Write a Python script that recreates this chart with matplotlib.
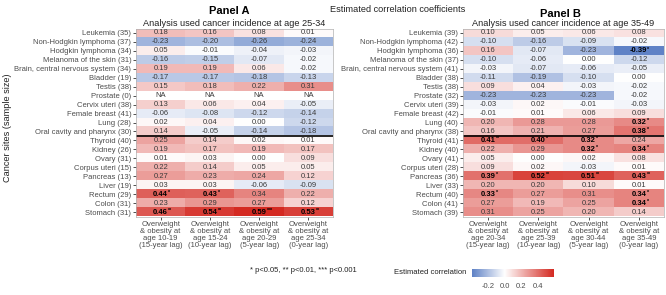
import matplotlib
matplotlib.use("Agg")
import matplotlib.pyplot as plt
import numpy as np
from matplotlib.colors import LinearSegmentedColormap, TwoSlopeNorm

plt.rcParams['font.family'] = ['Liberation Sans', 'DejaVu Sans']

sites = ["Leukemia", "Non-Hodgkin lymphoma", "Hodgkin lymphoma", "Melanoma of the skin",
         "Brain, central nervous system", "Bladder", "Testis", "Prostate", "Cervix uteri",
         "Female breast", "Lung", "Oral cavity and pharynx", "Thyroid", "Kidney", "Ovary",
         "Corpus uteri", "Pancreas", "Liver", "Rectum", "Colon", "Stomach"]
n_a = [35, 37, 34, 31, 34, 19, 38, 0, 38, 41, 28, 30, 40, 26, 31, 15, 13, 19, 29, 31, 31]
n_b = [39, 42, 36, 37, 41, 38, 38, 32, 39, 42, 40, 38, 41, 40, 41, 28, 36, 33, 40, 41, 39]

xlabels_a = ["Overweight\n& obesity at\nage 10-19\n(15-year lag)",
             "Overweight\n& obesity at\nage 15-24\n(10-year lag)",
             "Overweight\n& obesity at\nage 20-29\n(5-year lag)",
             "Overweight\n& obesity at\nage 25-34\n(0-year lag)"]
xlabels_b = ["Overweight\n& obesity at\nage 20-34\n(15-year lag)",
             "Overweight\n& obesity at\nage 25-39\n(10-year lag)",
             "Overweight\n& obesity at\nage 30-44\n(5-year lag)",
             "Overweight\n& obesity at\nage 35-49\n(0-year lag)"]

NA = np.nan
vals_a = [
    [0.18, 0.16, 0.08, 0.01],
    [-0.23, -0.20, -0.26, -0.24],
    [0.05, -0.01, -0.04, -0.03],
    [-0.16, -0.15, -0.07, -0.02],
    [0.19, 0.19, 0.06, -0.02],
    [-0.17, -0.17, -0.18, -0.13],
    [0.15, 0.18, 0.22, 0.31],
    [NA, NA, NA, NA],
    [0.13, 0.06, 0.04, -0.05],
    [-0.06, -0.08, -0.12, -0.14],
    [0.02, 0.04, 0.00, -0.12],
    [0.14, -0.05, -0.14, -0.18],
    [0.25, 0.14, 0.02, 0.01],
    [0.19, 0.17, 0.19, 0.17],
    [0.01, 0.03, 0.00, 0.09],
    [0.22, 0.14, 0.05, 0.05],
    [0.27, 0.23, 0.24, 0.12],
    [0.03, 0.03, -0.06, -0.09],
    [0.44, 0.43, 0.34, 0.22],
    [0.23, 0.29, 0.27, 0.12],
    [0.46, 0.54, 0.59, 0.53],
]
sig_a = [
    ["", "", "", ""], ["", "", "", ""], ["", "", "", ""], ["", "", "", ""],
    ["", "", "", ""], ["", "", "", ""], ["", "", "", ""], ["", "", "", ""],
    ["", "", "", ""], ["", "", "", ""], ["", "", "", ""], ["", "", "", ""],
    ["", "", "", ""], ["", "", "", ""], ["", "", "", ""], ["", "", "", ""],
    ["", "", "", ""], ["", "", "", ""], ["*", "*", "", ""], ["", "", "", ""],
    ["**", "**", "***", "**"],
]
vals_b = [
    [0.10, 0.05, 0.06, 0.08],
    [-0.10, -0.16, -0.09, -0.02],
    [0.16, -0.07, -0.23, -0.39],
    [-0.10, -0.06, 0.00, -0.12],
    [-0.03, -0.07, -0.06, -0.05],
    [-0.11, -0.19, -0.10, 0.00],
    [0.09, 0.04, -0.03, -0.02],
    [-0.23, -0.23, -0.23, -0.02],
    [-0.03, 0.02, -0.01, -0.03],
    [-0.01, 0.01, 0.06, 0.09],
    [0.20, 0.28, 0.28, 0.32],
    [0.16, 0.21, 0.27, 0.38],
    [0.41, 0.40, 0.32, 0.24],
    [0.22, 0.29, 0.32, 0.34],
    [0.05, 0.00, 0.02, 0.08],
    [0.09, 0.02, -0.03, 0.01],
    [0.39, 0.52, 0.51, 0.43],
    [0.20, 0.20, 0.10, 0.01],
    [0.33, 0.27, 0.31, 0.34],
    [0.27, 0.19, 0.25, 0.34],
    [0.31, 0.25, 0.20, 0.14],
]
sig_b = [
    ["", "", "", ""], ["", "", "", ""], ["", "", "", "*"], ["", "", "", ""],
    ["", "", "", ""], ["", "", "", ""], ["", "", "", ""], ["", "", "", ""],
    ["", "", "", ""], ["", "", "", ""], ["", "", "", "*"], ["", "", "", "*"],
    ["**", "*", "*", ""], ["", "", "*", "*"], ["", "", "", ""], ["", "", "", ""],
    ["*", "**", "**", "**"], ["", "", "", ""], ["*", "", "", "*"], ["", "", "", "*"],
    ["", "", "", ""],
]

cmap = LinearSegmentedColormap.from_list("div", ["#5f82c6", "#ffffff", "#d42a22"])
norm = TwoSlopeNorm(vmin=-0.39, vcenter=0.0, vmax=0.59)

W, H = 666, 295
fig = plt.figure(figsize=(W / 100, H / 100), dpi=100)

grey = "#4d4d4d"
fs = 5.5

def panel(left, right, vals, sig, ns, xlabels, title, subtitle, title_x, title_y):
    ax = fig.add_axes([left / W, 1 - 216.5 / H, (right - left) / W, (216.5 - 28.5) / H])
    arr = np.array(vals, dtype=float)
    ax.imshow(np.ma.masked_invalid(arr), cmap=cmap, norm=norm, aspect='auto',
              interpolation='nearest')
    nr, nc = arr.shape
    for i in range(nr):
        for j in range(nc):
            v = arr[i, j]
            if np.isnan(v):
                ax.text(j, i, "NA", ha='center', va='center', fontsize=fs, color="#3a3a3a")
            elif sig[i][j]:
                ax.text(j, i, "%.2f" % v, ha='center', va='center', fontsize=fs,
                        color="black", fontweight='bold')
                ax.annotate(sig[i][j], xy=(j, i), xytext=(5.6, 1.4),
                            textcoords='offset points', ha='left', va='center',
                            fontsize=3.8, color="black", fontweight='bold')
            else:
                ax.text(j, i, "%.2f" % v, ha='center', va='center', fontsize=fs, color="#3a3a3a")
    ax.axhline(11.5, color='black', lw=1.2)
    ax.set_xlim(-0.5, nc - 0.5)
    ax.set_ylim(nr - 0.5, -0.5)
    ax.set_yticks(range(nr))
    ax.set_yticklabels([f"{s} ({n})" for s, n in zip(sites, ns)], fontsize=fs, color=grey)
    ax.set_xticks(range(nc))
    ax.set_xticklabels(xlabels, fontsize=fs, color=grey, linespacing=1.0)
    ax.tick_params(length=2, width=0.6, color="#333333", pad=1.5)
    for s in ax.spines.values():
        s.set_color("#b0b0b0")
        s.set_linewidth(0.5)
    fig.text(title_x / W, 1 - title_y / H, title, ha='center', va='center',
             fontsize=8, fontweight='bold', color='black')
    fig.text((left + right) / 2 / W, 1 - 23.5 / H, subtitle, ha='center', va='center',
             fontsize=6.6, color="#222222")
    return ax

panel(136, 333, vals_a, sig_a, n_a, xlabels_a, "Panel A",
      "Analysis used cancer incidence at age 25-34", 229, 10.5)
panel(463, 664, vals_b, sig_b, n_b, xlabels_b, "Panel B",
      "Analysis used cancer incidence at age 35-49", 560, 14)

fig.text(398 / W, 1 - 10 / H, "Estimated correlation coefficients", ha='center', va='center',
         fontsize=6.6, color="#222222")
fig.text(8 / W, 1 - 128 / H, "Cancer sites (sample size)", rotation=90, ha='center',
         va='center', fontsize=6.6, color="#222222")
fig.text(303 / W, 1 - 271 / H, "* p<0.05, ** p<0.01, *** p<0.001", ha='center', va='center',
         fontsize=fs, color="#222222")
fig.text(466 / W, 1 - 272 / H, "Estimated correlation", ha='right', va='center',
         fontsize=fs, color="#222222")

cax = fig.add_axes([472 / W, 1 - 277 / H, (554 - 472) / W, 8 / H])
grad = np.linspace(-0.39, 0.59, 200)[None, :]
cax.imshow(grad, cmap=cmap, norm=norm, aspect='auto',
           extent=[-0.39, 0.59, 0, 1])
cax.set_xlim(-0.39, 0.59)
cax.set_yticks([])
cax.set_xticks([-0.2, 0.0, 0.2, 0.4])
cax.set_xticklabels(["-0.2", "0.0", "0.2", "0.4"], fontsize=fs, color=grey)
cax.tick_params(length=0, pad=4)
for s in cax.spines.values():
    s.set_visible(False)

fig.savefig("out.png", dpi=100)
